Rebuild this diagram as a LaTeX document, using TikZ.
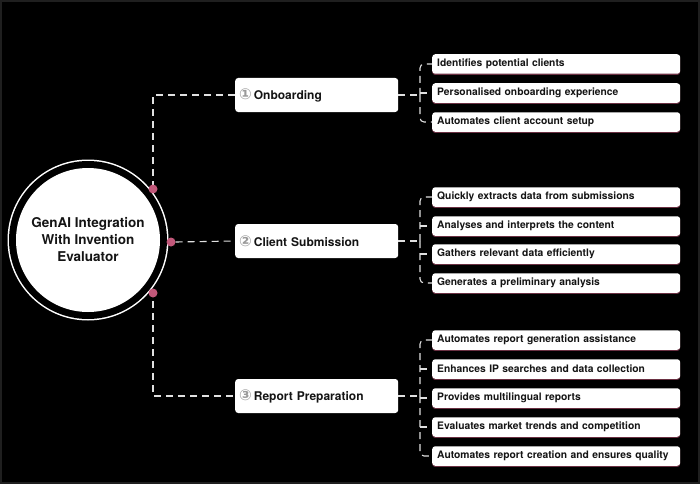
\documentclass[tikz,border=0pt]{standalone}
\usepackage{fontspec}
\setmainfont{TeX Gyre Heros}
\newfontfamily\symfont{DejaVu Sans}
\usetikzlibrary{shadows}
\definecolor{dotpink}{HTML}{C2587A}
\definecolor{numgray}{HTML}{9A9A9A}
\definecolor{txt}{HTML}{141414}
\newcommand{\cnum}[1]{{\symfont\color{numgray}\fontsize{15}{15}\selectfont #1}\kern2pt}
\begin{document}
\begin{tikzpicture}[x=1pt,y=-1pt,
  conn/.style={draw=white!88!black, line width=1.1pt, dash pattern=on 7pt off 5pt},
  item/.style={anchor=west, fill=white, rounded corners=3pt, text width=238pt, inner xsep=5pt,
    minimum height=19.5pt, inner ysep=0pt, align=left, text=txt,
    font=\fontsize{10.3}{12}\selectfont\bfseries,
    drop shadow={shadow xshift=0pt, shadow yshift=-1.2pt, fill=dotpink, opacity=0.55}},
  mainbox/.style={anchor=west, fill=white, rounded corners=3pt, text width=155pt, inner xsep=4pt,
    minimum height=34pt, inner ysep=0pt, align=left, text=txt,
    font=\fontsize{12}{14}\selectfont\bfseries},
  pdot/.style={circle, fill=dotpink, minimum size=9pt, inner sep=0pt}]
\useasboundingbox (0,0) rectangle (700,484);
\fill[black] (0,0) rectangle (700,484);
\draw[black!88!white, line width=2pt] (1,1) rectangle (699,483);

% main boxes
\node[mainbox] (on) at (235,95) {\cnum{①}Onboarding};
\node[mainbox] (cs) at (235,241) {\cnum{②}Client Submission};
\node[mainbox] (rp) at (235,396) {\cnum{③}Report Preparation};

% left trunk
\coordinate (tp) at (153,95);
\coordinate (bp) at (153,396);
\draw[conn] (on.west) -- (tp) -- (bp) -- (rp.west);

% hub
\fill[white] (88,240) circle (80.5pt);
\fill[black] (88,240) circle (79pt);
\node[circle, fill=white, minimum size=144pt, inner sep=0pt, align=center, text=txt,
  font=\fontsize{13.5}{17}\selectfont\bfseries] (hub) at (88,240)
  {GenAI Integration\\With Invention\\Evaluator};
\node[pdot] (d1) at (153,189) {};
\node[pdot] (d2) at (171,242) {};
\node[pdot] (d3) at (153,293) {};
\draw[conn] (d2.east) -- (cs.west);

% items
\node[item] (o1) at (432,64) {Identifies potential clients};
\node[item] (o2) at (432,93) {Personalised onboarding experience};
\node[item] (o3) at (432,122) {Automates client account setup};

\node[item] (c1) at (432,197) {Quickly extracts data from submissions};
\node[item] (c2) at (432,226) {Analyses and interprets the content};
\node[item] (c3) at (432,254) {Gathers relevant data efficiently};
\node[item] (c4) at (432,283) {Generates a preliminary analysis};

\node[item] (r1) at (432,340) {Automates report generation assistance};
\node[item] (r2) at (432,369) {Enhances IP searches and data collection};
\node[item] (r3) at (432,398) {Provides multilingual reports};
\node[item] (r4) at (432,427) {Evaluates market trends and competition};
\node[item] (r5) at (432,456) {\mbox{Automates report creation and ensures quality}};

% brackets
\coordinate (jo) at (420,95);
\draw[conn] (on.east) -- (jo);
\draw[conn, rounded corners=4pt] (jo) |- (o1.west);
\draw[conn, rounded corners=4pt] (jo) |- (o3.west);
\draw[conn] (o2.west -| jo) -- (o2.west);

\coordinate (jc) at (420,241);
\draw[conn] (cs.east) -- (jc);
\draw[conn, rounded corners=4pt] (jc) |- (c1.west);
\draw[conn, rounded corners=4pt] (jc) |- (c4.west);
\draw[conn] (c2.west -| jc) -- (c2.west);
\draw[conn] (c3.west -| jc) -- (c3.west);

\coordinate (jr) at (420,396);
\draw[conn] (rp.east) -- (jr);
\draw[conn, rounded corners=4pt] (jr) |- (r1.west);
\draw[conn, rounded corners=4pt] (jr) |- (r5.west);
\draw[conn] (r2.west -| jr) -- (r2.west);
\draw[conn] (r3.west -| jr) -- (r3.west);
\draw[conn] (r4.west -| jr) -- (r4.west);
\end{tikzpicture}
\end{document}
